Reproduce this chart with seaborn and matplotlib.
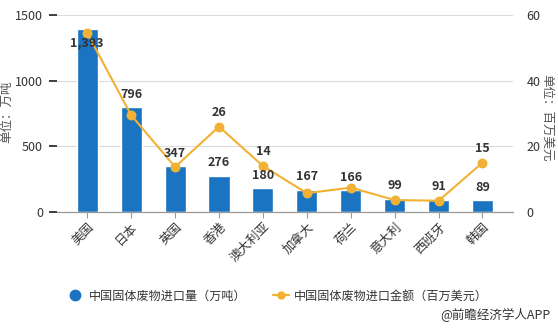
import matplotlib
matplotlib.use("Agg")
import matplotlib.pyplot as plt
from matplotlib.lines import Line2D
import seaborn as sns
import numpy as np

countries = ["美国", "日本", "英国", "香港", "澳大利亚", "加拿大", "荷兰", "意大利", "西班牙", "韩国"]
volume = [1393, 796, 347, 276, 180, 167, 166, 99, 91, 89]          # 万吨
amount = [54.5, 29.5, 13.7, 26, 14, 5.7, 7.4, 3.6, 3.4, 15]        # 百万美元
amount_labels = {3: "26", 4: "14", 9: "15"}
left_ticks = [0, 500, 1000, 1500]
right_ticks = [0, 20, 40, 60]

BLUE = "#1a74c2"
GOLD = "#f0b134"
TXT = "#333333"

sns.set_theme(style="white")
plt.rcParams["font.family"] = ["Noto Sans CJK SC", "DejaVu Sans"]

fig = plt.figure(figsize=(5.58, 3.29), dpi=100)
ax = fig.add_axes([0.102, 0.356, 0.817, 0.598])

sns.barplot(x=countries, y=volume, color=BLUE, width=0.48, saturation=1, ax=ax, zorder=2)
ax.set_ylim(0, 1500)
ax.set_xlim(-0.69, 9.69)
ax.set_yticks(left_ticks)
ax.set_yticklabels([str(t) for t in left_ticks], fontsize=9, color=TXT)
ax.yaxis.grid(True, color="#dcdcdc", linewidth=0.8, zorder=0)
ax.set_axisbelow(True)
ax.set_xlabel("")
ax.set_ylabel("单位：万吨", fontsize=9, color="#555555")
ax.yaxis.set_label_coords(-0.097, 0.51)
for s in ["top", "right", "left"]:
    ax.spines[s].set_visible(False)
ax.spines["bottom"].set_color("#999999")
ax.spines["bottom"].set_linewidth(0.9)
ax.tick_params(axis="x", bottom=True, length=4, width=0.8, color="#999999", pad=2)
ax.tick_params(axis="y", left=False, pad=4)
ax.set_xticks(range(len(countries)))
ax.set_xticklabels(countries, rotation=45, ha="right", rotation_mode="anchor",
                   fontsize=9, color=TXT)

ax2 = ax.twinx()
sns.pointplot(x=countries, y=amount, color=GOLD, markers="o", linestyles="-",
              markersize=6, linewidth=1.5, ax=ax2)
ax2.set_ylim(0, 60)
ax2.set_xlim(-0.69, 9.69)
ax2.set_yticks(right_ticks)
ax2.set_yticklabels([str(t) for t in right_ticks], fontsize=9, color=TXT)
ax2.tick_params(axis="y", right=False, pad=4)
ax2.grid(False)
for s in ["top", "right", "left", "bottom"]:
    ax2.spines[s].set_visible(False)
ax2.set_ylabel("单位：百万美元", fontsize=9, color="#555555", rotation=-90, va="center")
ax2.yaxis.set_label_coords(1.075, 0.48)
ax2.set_xlabel("")

# bar value labels
for i, v in enumerate(volume):
    txt = f"{v:,}"
    dy = -14 if i == 0 else 13
    ax2.annotate(txt, xy=(i, v), xycoords=ax.transData, xytext=(0, dy * 0.72),
                 textcoords="offset points", ha="center", va="center",
                 fontsize=9, fontweight="bold", color=TXT, zorder=5)

# line value labels
for i, t in amount_labels.items():
    ax2.annotate(t, xy=(i, amount[i]), xycoords="data", xytext=(0, 10.5),
                 textcoords="offset points", ha="center", va="center",
                 fontsize=9, fontweight="bold", color=TXT, zorder=5)

handles = [
    Line2D([], [], marker="o", linestyle="none", markersize=7.5, color=BLUE),
    Line2D([], [], marker="o", linestyle="-", markersize=5, color=GOLD, linewidth=1.6),
]
fig.legend(handles, ["中国固体废物进口量（万吨）", "中国固体废物进口金额（百万美元）"],
           loc="center", bbox_to_anchor=(0.498, 0.10), ncol=2, frameon=False,
           fontsize=8.7, handlelength=1.3, columnspacing=2.2, handletextpad=0.45,
           labelcolor=TXT)

fig.text(0.986, 0.043, "@前瞻经济学人APP", ha="right", va="center", fontsize=9, color=TXT)

fig.savefig("out.png", dpi=100)
